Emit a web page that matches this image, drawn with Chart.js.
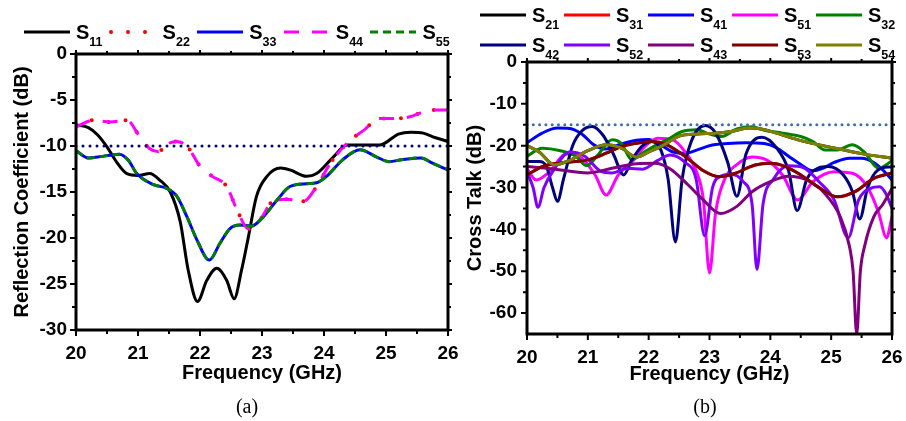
<!DOCTYPE html>
<html>
<head>
<meta charset="utf-8">
<script src="https://cdn.jsdelivr.net/npm/chart.js@4"></script>
<style>
  body { margin: 0; background: #fff; }
  #page { position: relative; width: 906px; height: 421px; overflow: hidden; background: #fff; }
  canvas { position: absolute; top: 0; }
  .item { position: absolute; height: 24px; }
  .item svg { position: absolute; left: 0; top: 0; }
  .lab { position: absolute; font: bold 20px "Liberation Sans", Arial, sans-serif; line-height: 20px; color: #000; white-space: nowrap; }
  .lab sub { font-size: 12.5px; vertical-align: -7px; line-height: 0; }
  .cap { position: absolute; font: 20px "Liberation Serif", "Times New Roman", serif; color: #000; transform: translateX(-50%); }
</style>
</head>
<body>
<div id="page">
  <canvas id="chartA" width="475" height="421" style="left:0"></canvas>
  <canvas id="chartB" width="453" height="421" style="left:453px"></canvas>
  <div class="cap" style="left:247px; top:395px">(a)</div>
  <div class="cap" style="left:705px; top:395px">(b)</div>
</div>
<script>
// ---- tick labels ----
const freqTicks = [20, 21, 22, 23, 24, 25, 26];
const reflTicks = [-30, -25, -20, -15, -10, -5, 0];
const talkTicks = [-60, -50, -40, -30, -20, -10, 0];

// ---- (a) reflection coefficient, dB ----
const s11Freq = [20.0, 20.2, 20.35, 20.5, 20.65, 20.82, 21.0, 21.19, 21.35, 21.52, 21.68, 21.81, 21.96, 22.11, 22.27, 22.43, 22.55, 22.67, 22.78, 22.91, 23.08, 23.3, 23.45, 23.72, 23.88, 24.15, 24.37, 24.7, 24.9, 25.2, 25.4, 25.6, 25.8, 26.0];
const s11 = [-7.7, -8.0, -8.8, -10.1, -11.7, -13.0, -13.2, -13.0, -13.7, -15.0, -18.2, -23.5, -26.9, -24.6, -23.3, -24.6, -26.6, -23.5, -19.9, -15.5, -13.3, -12.4, -12.6, -13.3, -13.0, -11.2, -9.9, -9.9, -9.9, -8.7, -8.5, -8.6, -9.1, -9.5];

// S22 and S44 lie on the same trace
const s22Freq = [20.0, 20.28, 20.55, 20.82, 21.03, 21.19, 21.32, 21.5, 21.62, 21.8, 22.0, 22.2, 22.43, 22.6, 22.78, 22.95, 23.18, 23.4, 23.67, 23.88, 24.1, 24.37, 24.64, 24.9, 25.2, 25.4, 25.56, 25.76, 26.0];
const s22 = [-7.9, -7.2, -7.4, -7.2, -9.0, -10.3, -10.6, -9.7, -9.5, -10.1, -12.2, -13.3, -14.4, -17.0, -19.0, -18.2, -16.0, -15.8, -16.0, -14.4, -11.9, -9.7, -8.3, -7.0, -7.0, -6.8, -6.4, -6.1, -6.1];
const s44Freq = s22Freq;
const s44 = s22;

// S33 and S55 lie on the same trace
const s33Freq = [20.0, 20.2, 20.35, 20.55, 20.7, 20.85, 20.98, 21.25, 21.46, 21.62, 21.79, 21.95, 22.15, 22.32, 22.48, 22.65, 22.83, 23.02, 23.24, 23.45, 23.72, 23.88, 24.04, 24.3, 24.58, 24.85, 25.05, 25.25, 25.56, 25.76, 26.0];
const s33 = [-10.5, -11.3, -11.2, -11.0, -10.9, -11.6, -13.0, -14.2, -14.6, -15.4, -17.7, -20.2, -22.4, -20.6, -19.0, -18.6, -18.7, -17.7, -15.9, -14.4, -14.1, -14.0, -13.3, -11.5, -10.4, -11.2, -11.7, -11.5, -11.3, -11.9, -12.6];
const s55Freq = s33Freq;
const s55 = s33;

const refFreq = [20, 26];
const refA = [-10, -10];
const refB = [-15, -15];

// ---- (b) cross talk, dB ----
const s41Freq = [20.0, 20.25, 20.5, 20.7, 20.9, 21.1, 21.3, 21.55, 21.8, 22.0, 22.2, 22.4, 22.6, 22.8, 23.0, 23.3, 23.6, 23.9, 24.1, 24.3, 24.5, 24.7, 24.85, 25.05, 25.3, 25.5, 25.7, 25.85, 26.0];
const s41 = [-19.3, -17.0, -15.8, -15.9, -17.2, -19.8, -20.8, -19.6, -18.7, -18.5, -19.8, -21.5, -21.8, -21.0, -20.0, -19.5, -19.3, -19.5, -20.5, -22.5, -24.5, -26.0, -25.5, -24.0, -23.0, -23.0, -24.0, -25.8, -28.2];

const s42Freq = [20.0, 20.2, 20.32, 20.42, 20.5, 20.6, 20.75, 20.9, 21.07, 21.25, 21.42, 21.59, 21.72, 21.9, 22.05, 22.2, 22.32, 22.44, 22.55, 22.7, 22.93, 23.1, 23.3, 23.45, 23.6, 23.86, 24.1, 24.3, 24.44, 24.6, 24.78, 24.95, 25.2, 25.35, 25.47, 25.6, 25.77, 26.0];
const s42 = [-23.8, -23.8, -25.0, -30.0, -33.3, -28.0, -20.0, -16.5, -15.4, -17.5, -22.0, -27.0, -23.5, -20.0, -19.0, -21.0, -28.0, -43.0, -28.0, -19.0, -15.2, -17.0, -24.0, -32.1, -22.0, -18.0, -20.5, -26.0, -35.5, -28.0, -25.4, -25.0, -27.0, -31.0, -37.5, -30.0, -25.8, -25.0];

const s32Freq = [20.0, 20.25, 20.55, 20.8, 20.98, 21.15, 21.4, 21.55, 21.72, 21.9, 22.1, 22.3, 22.55, 22.78, 23.0, 23.2, 23.45, 23.7, 23.9, 24.2, 24.5, 24.7, 24.9, 25.1, 25.35, 25.55, 25.78, 26.0];
const s32 = [-22.5, -20.6, -21.2, -22.5, -24.8, -22.5, -18.6, -19.5, -23.3, -21.8, -20.0, -18.6, -16.6, -16.2, -17.2, -17.8, -16.0, -15.5, -16.3, -17.0, -17.8, -19.0, -21.0, -21.0, -19.8, -21.6, -25.4, -23.6];

const s54Freq = [20.0, 20.2, 20.45, 20.7, 21.0, 21.3, 21.55, 21.8, 22.0, 22.25, 22.5, 22.8, 23.1, 23.35, 23.65, 23.85, 24.1, 24.5, 25.0, 25.5, 26.0];
const s54 = [-20.0, -21.5, -24.6, -23.5, -21.2, -19.8, -20.6, -22.7, -21.5, -19.8, -17.7, -17.2, -17.0, -16.6, -15.8, -16.0, -17.0, -18.8, -20.4, -21.9, -23.0];

const s53Freq = [20.0, 20.25, 20.5, 20.8, 21.0, 21.3, 21.55, 21.85, 22.05, 22.3, 22.6, 22.9, 23.15, 23.4, 23.75, 24.0, 24.25, 24.5, 24.8, 25.1, 25.4, 25.7, 26.0];
const s53 = [-27.0, -25.0, -24.2, -23.8, -23.4, -21.8, -20.2, -19.3, -19.0, -19.8, -22.6, -26.0, -27.4, -26.7, -24.6, -24.2, -25.0, -27.0, -30.0, -32.2, -30.9, -27.8, -26.5];

const s43Freq = [20.0, 20.4, 21.0, 21.4, 21.8, 22.1, 22.35, 22.65, 22.9, 23.18, 23.45, 23.7, 24.0, 24.3, 24.6, 24.9, 25.15, 25.3, 25.36, 25.42, 25.48, 25.55, 25.7, 25.85, 26.0];
const s43 = [-25.0, -25.5, -26.5, -25.4, -24.3, -24.2, -25.5, -29.4, -33.0, -36.2, -34.5, -31.0, -28.6, -27.3, -28.2, -31.5, -37.0, -44.0, -50.0, -65.0, -50.0, -44.0, -37.0, -34.0, -30.2];

const s52Freq = [20.0, 20.1, 20.18, 20.28, 20.43, 20.7, 20.95, 21.2, 21.4, 21.65, 21.9, 22.15, 22.35, 22.6, 22.78, 22.92, 23.05, 23.2, 23.35, 23.55, 23.7, 23.78, 23.88, 24.05, 24.3, 24.55, 24.8, 25.05, 25.28, 25.45, 25.65, 25.8, 25.9, 26.0];
const s52 = [-26.2, -30.0, -34.7, -30.0, -26.0, -21.5, -22.5, -26.0, -26.5, -25.4, -25.6, -23.5, -22.2, -24.0, -28.0, -41.5, -30.0, -27.2, -26.8, -28.5, -34.0, -49.6, -34.0, -28.0, -24.8, -25.3, -28.6, -33.0, -42.0, -33.0, -30.2, -29.8, -31.5, -35.0];

const s51Freq = [20.0, 20.15, 20.35, 20.65, 20.9, 21.12, 21.3, 21.5, 21.75, 21.95, 22.15, 22.4, 22.6, 22.78, 22.9, 23.0, 23.1, 23.25, 23.45, 23.7, 23.95, 24.2, 24.45, 24.7, 25.05, 25.35, 25.6, 25.78, 25.91, 26.0];
const s51 = [-25.5, -28.2, -26.5, -22.0, -23.0, -27.0, -31.8, -27.0, -23.5, -20.0, -18.2, -18.6, -21.5, -26.0, -33.0, -50.4, -36.0, -28.0, -24.5, -22.7, -23.5, -27.0, -33.0, -28.6, -26.2, -26.6, -30.0, -36.0, -42.0, -37.0];

// S21 and S31 are hidden under S54 and S53
const s21Freq = s54Freq;
const s21 = s54;
const s31Freq = s53Freq;
const s31 = s53;

const pts = (fx, vy) => fx.map((f, i) => ({ x: f, y: vy[i] }));

const tickFont = { family: '"Liberation Sans", Arial, sans-serif', size: 19, weight: 'bold' };
const titleFont = { family: '"Liberation Sans", Arial, sans-serif', size: 20, weight: 'bold' };

// frame + outward major/minor ticks on all four sides
const frameTicks = {
  id: 'frameTicks',
  afterDraw(chart, args, opts) {
    const { ctx, chartArea: a, scales: { x, y } } = chart;
    ctx.save();
    ctx.strokeStyle = '#000';
    ctx.lineWidth = 2;
    ctx.beginPath();
    const xs = opts.x, ys = opts.y;
    xs.forEach((v, i) => {
      const p = x.getPixelForValue(v);
      ctx.moveTo(p, a.bottom); ctx.lineTo(p, a.bottom + 6);
      ctx.moveTo(p, a.top); ctx.lineTo(p, a.top - 4);
      if (i < xs.length - 1) {
        const m = x.getPixelForValue((v + xs[i + 1]) / 2);
        ctx.moveTo(m, a.bottom); ctx.lineTo(m, a.bottom + 4);
        ctx.moveTo(m, a.top); ctx.lineTo(m, a.top - 3);
      }
    });
    ys.forEach((v, i) => {
      const p = y.getPixelForValue(v);
      ctx.moveTo(a.left, p); ctx.lineTo(a.left - 6, p);
      ctx.moveTo(a.right, p); ctx.lineTo(a.right + 4, p);
      if (i < ys.length - 1) {
        const m = y.getPixelForValue((v + ys[i + 1]) / 2);
        ctx.moveTo(a.left, m); ctx.lineTo(a.left - 4, m);
        ctx.moveTo(a.right, m); ctx.lineTo(a.right + 3, m);
      }
    });
    ctx.stroke();
    ctx.lineWidth = 3;
    ctx.strokeRect(a.left, a.top, a.right - a.left, a.bottom - a.top);
    ctx.restore();
  }
};

function line(label, data, color, width, dash, cap, order) {
  return {
    label, data, borderColor: color, borderWidth: width, borderDash: dash || [],
    borderCapStyle: cap || 'butt', pointRadius: 0, fill: false,
    cubicInterpolationMode: 'monotone', order
  };
}

function makeOptions(p) {
  return {
    responsive: false,
    animation: false,
    layout: { padding: p.pad },
    plugins: { legend: { display: false }, tooltip: { enabled: false }, frameTicks: { x: freqTicks, y: p.yTicks } },
    scales: {
      x: {
        type: 'linear', min: 20, max: 26,
        grid: { display: false, drawTicks: false }, border: { display: false },
        ticks: { stepSize: 1, autoSkip: false, maxRotation: 0, color: '#000', font: tickFont, padding: 12 },
        afterBuildTicks: s => { s.ticks = freqTicks.map(v => ({ value: v })); },
        title: { display: true, text: 'Frequency (GHz)', color: '#000', font: titleFont, padding: { top: 0, bottom: 0 } },
        afterFit: s => { s.height = p.xh; s.paddingLeft = 0; s.paddingRight = 0; }
      },
      y: {
        type: 'linear', min: p.ymin, max: 0,
        grid: { display: false, drawTicks: false }, border: { display: false },
        ticks: { autoSkip: false, color: '#000', font: tickFont, padding: p.tp },
        afterBuildTicks: s => { s.ticks = p.yTicks.map(v => ({ value: v })); },
        title: { display: true, text: p.ytitle, color: '#000', font: titleFont, padding: { top: 10, bottom: 0 } },
        afterFit: s => { s.width = p.yw; s.paddingTop = 0; s.paddingBottom = 0; }
      }
    }
  };
}

new Chart(document.getElementById('chartA'), {
  type: 'line',
  data: {
    datasets: [
      line('S11', pts(s11Freq, s11), '#000000', 3, [], 'butt', 5),
      line('S22', pts(s22Freq, s22), '#ff0000', 4, [0, 17], 'round', 4),
      line('S33', pts(s33Freq, s33), '#0000ff', 3, [], 'butt', 3),
      line('S44', pts(s44Freq, s44), '#ff00ff', 3, [15, 13], 'butt', 2),
      line('S55', pts(s55Freq, s55), '#008000', 3, [8, 5], 'butt', 1),
      line('-10 dB', pts(refFreq, refA), '#000080', 3, [0, 7], 'round', 0)
    ]
  },
  options: makeOptions({ pad: { left: 0, top: 54, right: 27, bottom: 36 }, xh: 55, yw: 76, ymin: -30, yTicks: reflTicks, tp: 9, ytitle: 'Reflection Coefficient (dB)' }),
  plugins: [frameTicks]
});

const colB = {
  s21: '#000000', s31: '#ff0000', s41: '#0000ff', s51: '#ff00ff', s32: '#008000',
  s42: '#000080', s52: '#8000ff', s43: '#800080', s53: '#800000', s54: '#808000'
};

new Chart(document.getElementById('chartB'), {
  type: 'line',
  data: {
    datasets: [
      line('S21', pts(s21Freq, s21), colB.s21, 3, [], 'butt', 10),
      line('S31', pts(s31Freq, s31), colB.s31, 3, [], 'butt', 9),
      line('S41', pts(s41Freq, s41), colB.s41, 3, [], 'butt', 8),
      line('S51', pts(s51Freq, s51), colB.s51, 3, [], 'butt', 7),
      line('S32', pts(s32Freq, s32), colB.s32, 3, [], 'butt', 6),
      line('S42', pts(s42Freq, s42), colB.s42, 3, [], 'butt', 5),
      line('S52', pts(s52Freq, s52), colB.s52, 3, [], 'butt', 4),
      line('S43', pts(s43Freq, s43), colB.s43, 3, [], 'butt', 3),
      line('S53', pts(s53Freq, s53), colB.s53, 3, [], 'butt', 2),
      line('S54', pts(s54Freq, s54), colB.s54, 3, [], 'butt', 1),
      line('-15 dB', pts(refFreq, refB), '#3c6eb4', 3, [0, 6.3], 'round', 0)
    ]
  },
  options: makeOptions({ pad: { left: 0, top: 62, right: 14, bottom: 35 }, xh: 52, yw: 74, ymin: -65, yTicks: talkTicks, tp: 10, ytitle: 'Cross Talk (dB)' }),
  plugins: [frameTicks]
});

// ---- legends (HTML, for the subscripts) ----
const page = document.getElementById('page');
function addLegend(items, x0, step, y) {
  items.forEach((it, i) => {
    const left = x0 + i * step;
    const d = document.createElement('div');
    d.className = 'item';
    d.style.left = left + 'px';
    d.style.top = (y - 12) + 'px';
    d.innerHTML = '<svg width="52" height="24"><line x1="2" y1="12" x2="48" y2="12" stroke="' + it.c +
      '" stroke-width="' + (it.w || 3) + '" stroke-dasharray="' + (it.d || 'none') + '" stroke-linecap="' + (it.cap || 'butt') + '"/></svg>' +
      '<span class="lab" style="left:54px; top:2px">S<sub>' + it.s + '</sub></span>';
    page.appendChild(d);
  });
}
addLegend([
  { s: '11', c: '#000000' },
  { s: '22', c: '#ff0000', w: 4, d: '0 17', cap: 'round' },
  { s: '33', c: '#0000ff' },
  { s: '44', c: '#ff00ff', d: '15 13' },
  { s: '55', c: '#008000', d: '8 5' }
], 22, 86.6, 32);
addLegend([
  { s: '21', c: colB.s21 }, { s: '31', c: colB.s31 }, { s: '41', c: colB.s41 },
  { s: '51', c: colB.s51 }, { s: '32', c: colB.s32 }
], 478, 84, 15);
addLegend([
  { s: '42', c: colB.s42 }, { s: '52', c: colB.s52 }, { s: '43', c: colB.s43 },
  { s: '53', c: colB.s53 }, { s: '54', c: colB.s54 }
], 478, 84, 45);
</script>
</body>
</html>
